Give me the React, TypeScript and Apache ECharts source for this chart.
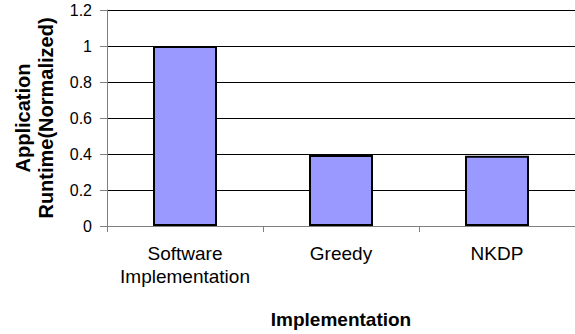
import React, { useEffect, useRef } from "react";
import * as echarts from "echarts";

const categories = ["Software\nImplementation", "Greedy", "NKDP"];
const runtimes = [1.0, 0.395, 0.39];
const yTicks = { min: 0, max: 1.2, step: 0.2 };
const xTitle = "Implementation";
const yTitle = "Application\nRuntime(Normalized)";

export default function App() {
  const ref = useRef<HTMLDivElement>(null);

  useEffect(() => {
    if (!ref.current) return;
    const chart = echarts.init(ref.current, null, { renderer: "svg" });
    const font = "'Liberation Sans', Arial, sans-serif";
    chart.setOption({
      animation: false,
      backgroundColor: "#ffffff",
      grid: { left: 107, top: 10, width: 471, bottom: 108, containLabel: false },
      xAxis: {
        type: "category",
        data: categories,
        boundaryGap: true,
        axisLine: { show: true, lineStyle: { color: "#808080", width: 1 } },
        axisTick: { show: true, length: 6, lineStyle: { color: "#808080" } },
        axisLabel: {
          color: "#000",
          fontFamily: font,
          fontSize: 19,
          lineHeight: 23,
          margin: 16,
          interval: 0,
        },
        name: xTitle,
        nameLocation: "middle",
        nameGap: 84,
        nameTextStyle: { color: "#000", fontFamily: font, fontSize: 19, fontWeight: "bold" },
      },
      yAxis: {
        type: "value",
        min: yTicks.min,
        max: yTicks.max,
        interval: yTicks.step,
        axisLine: { show: true, lineStyle: { color: "#808080", width: 1 } },
        axisTick: { show: true, length: 7, lineStyle: { color: "#808080" } },
        splitLine: { show: true, lineStyle: { color: "#000", width: 1 } },
        axisLabel: { color: "#000", fontFamily: font, fontSize: 16, margin: 15 },
        name: yTitle,
        nameLocation: "middle",
        nameGap: 50,
        nameRotate: 90,
        nameTextStyle: {
          color: "#000",
          fontFamily: font,
          fontSize: 20,
          fontWeight: "bold",
          lineHeight: 23,
        },
      },
      series: [
        {
          type: "bar",
          data: runtimes,
          barWidth: 64,
          itemStyle: { color: "#9999FF", borderColor: "#000", borderWidth: 2 },
        },
      ],
    });
    return () => chart.dispose();
  }, []);

  return (
    <div
      ref={ref}
      style={{ position: "fixed", left: 0, top: 0, width: 575, height: 334, background: "#fff" }}
    />
  );
}
